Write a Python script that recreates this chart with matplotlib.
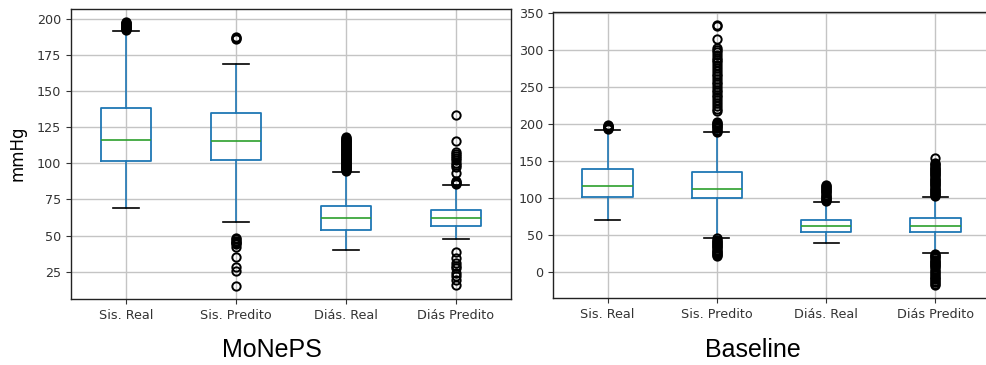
import matplotlib
matplotlib.use('Agg')
import matplotlib.pyplot as plt

categories = ['Sis. Real', 'Sis. Predito', 'Diás. Real', 'Diás Predito']
panel_titles = ['MoNePS', 'Baseline']
ylabel = 'mmHg'

# MoNePS: [whislo, q1, median, q3, whishi]
moneps_sis_real = [69.3, 101.5, 116.3, 138.3, 191.9]
moneps_sis_pred = [59.3, 102.3, 115.2, 134.6, 168.9]
moneps_dia_real = [40.0, 53.8, 62.1, 70.3, 94.3]
moneps_dia_pred = [47.6, 56.5, 62.1, 67.5, 85.0]

moneps_sis_real_fl = [192.5, 193.0, 193.5, 194.0, 194.5, 195.0, 195.5, 196.0, 196.5, 197.0, 197.5, 198.0]
moneps_sis_pred_fl = [186.3, 186.8, 187.4, 48.0, 47.3, 46.5, 45.8, 45.0, 44.4, 41.9, 35.2, 28.0, 25.5, 15.0]
moneps_dia_real_fl = [95.0, 95.5, 96.0, 96.5, 97.0, 97.5, 98.0, 98.5, 99.0, 99.5, 100.0, 100.5, 101.0,
                      101.5, 102.0, 102.5, 103.0, 103.5, 104.0, 104.5, 105.0, 105.5, 106.0, 106.5,
                      107.0, 107.5, 108.0, 108.5, 109.0, 109.5, 110.0, 110.5, 111.0, 111.5, 112.0,
                      112.5, 113.0, 113.5, 114.0, 114.5, 115.0, 115.5, 116.0, 116.5, 117.0, 117.5, 118.0]
moneps_dia_pred_fl = [133.7, 115.5, 108.0, 106.5, 105.0, 103.5, 102.0, 100.5, 99.0, 97.7, 93.1,
                      88.0, 87.0, 86.2, 85.5, 38.5, 34.4, 30.9, 29.0, 27.5, 24.0, 21.7, 19.4, 15.9]

# Baseline: [whislo, q1, median, q3, whishi]
base_sis_real = [69.5, 101.1, 116.0, 139.1, 191.9]
base_sis_pred = [46.0, 99.8, 112.0, 135.3, 188.8]
base_dia_real = [39.3, 53.7, 62.3, 69.5, 94.4]
base_dia_pred = [24.8, 53.3, 62.3, 73.1, 101.6]

base_sis_real_fl = [193.0, 194.0, 195.0, 196.0, 197.0, 198.0, 199.0]
base_sis_pred_fl = [334.5, 333.0, 315.5, 303.0, 300.0, 297.0, 294.0, 290.0, 287.0, 284.0, 280.0, 276.0,
                    272.0, 268.0, 265.0, 261.0, 257.0, 254.0, 250.0, 246.0, 243.0, 239.0, 236.0, 232.0,
                    228.0, 224.0, 221.0, 218.0, 203.0, 201.5, 200.0, 198.5, 197.0, 195.5, 194.0, 192.5,
                    191.0, 189.5, 45.0, 43.5, 42.0, 40.5, 39.0, 37.5, 36.0, 34.5, 33.0, 31.5, 30.0,
                    28.5, 27.0, 25.5, 24.0, 22.5, 21.0]
base_dia_real_fl = [95.5, 97.0, 98.5, 100.0, 101.5, 103.0, 104.5, 106.0, 107.5, 109.0, 110.5, 112.0,
                    113.5, 115.0, 116.5, 118.0]
base_dia_pred_fl = [153.5, 147.0, 145.5, 144.0, 142.5, 141.0, 139.5, 138.0, 136.5, 135.0, 133.5, 132.0,
                    130.5, 129.0, 127.5, 126.0, 124.5, 123.0, 121.5, 120.0, 118.5, 117.0, 115.5, 114.0,
                    112.5, 111.0, 109.5, 108.0, 106.5, 105.0, 103.5, 102.5,
                    24.0, 22.5, 21.0, 19.5, 18.0, 16.5, 15.0, 13.5, 12.0, 10.5, 9.0, 7.5, 6.0, 4.0,
                    1.5, -0.5, -2.5, -4.5, -6.5, -8.5, -10.5, -12.5, -14.5, -16.5, -18.0]


def make_stats(five, fliers, label):
    lo, q1, med, q3, hi = five
    return dict(whislo=lo, q1=q1, med=med, q3=q3, whishi=hi, fliers=fliers, label=label)


moneps = [make_stats(moneps_sis_real, moneps_sis_real_fl, categories[0]),
          make_stats(moneps_sis_pred, moneps_sis_pred_fl, categories[1]),
          make_stats(moneps_dia_real, moneps_dia_real_fl, categories[2]),
          make_stats(moneps_dia_pred, moneps_dia_pred_fl, categories[3])]
baseline = [make_stats(base_sis_real, base_sis_real_fl, categories[0]),
            make_stats(base_sis_pred, base_sis_pred_fl, categories[1]),
            make_stats(base_dia_real, base_dia_real_fl, categories[2]),
            make_stats(base_dia_pred, base_dia_pred_fl, categories[3])]

W, H = 987, 365
fig = plt.figure(figsize=(W / 100, H / 100), dpi=100)

ax1 = fig.add_axes([71 / W, (H - 299) / H, 440 / W, 290 / H])
ax2 = fig.add_axes([553 / W, (H - 298) / H, 437 / W, 286 / H])

tick_color = '#333333'
for ax, stats, ylim, yticks in [(ax1, moneps, (6, 207), [25, 50, 75, 100, 125, 150, 175, 200]),
                                (ax2, baseline, (-35.6, 351.8), [0, 50, 100, 150, 200, 250, 300, 350])]:
    ax.bxp(stats, positions=[1, 2, 3, 4], widths=0.46,
           boxprops=dict(color='#1f77b4', linewidth=1.3),
           whiskerprops=dict(color='#1f77b4', linewidth=1.2),
           medianprops=dict(color='#2ca02c', linewidth=1.2),
           capprops=dict(color='k', linewidth=1.2),
           flierprops=dict(marker='o', markerfacecolor='none', markeredgecolor='k',
                           markersize=6, markeredgewidth=1.4))
    ax.set_xlim(0.5, 4.5)
    ax.set_ylim(*ylim)
    ax.set_yticks(yticks)
    ax.set_xticks([1, 2, 3, 4], categories)
    ax.grid(True, color='#c4c4c4', linewidth=1.0)
    ax.set_axisbelow(True)
    ax.tick_params(labelsize=9.2, labelcolor=tick_color, color='#333333')
    for s in ax.spines.values():
        s.set_color('#222222')
        s.set_linewidth(1.0)

fig.text(18 / W, (H - 153) / H, ylabel, rotation=90, ha='center', va='center', fontsize=12,
         family='DejaVu Sans')
fig.text(272 / W, (H - 350) / H, panel_titles[0], ha='center', va='center', fontsize=18,
         family='Liberation Sans')
fig.text(753 / W, (H - 350) / H, panel_titles[1], ha='center', va='center', fontsize=18,
         family='Liberation Sans')

fig.savefig('out.png', dpi=100)
